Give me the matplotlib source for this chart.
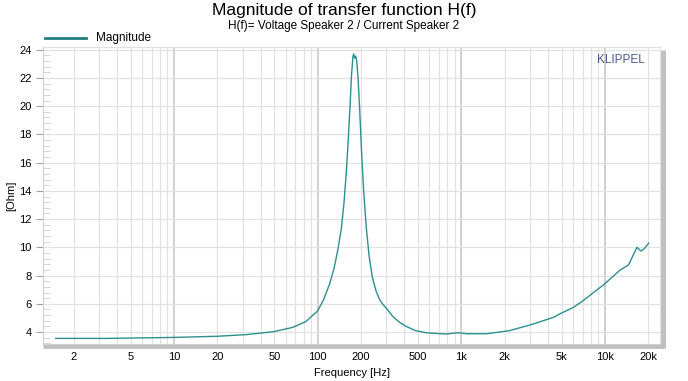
import matplotlib.pyplot as plt
from matplotlib.ticker import FixedLocator, NullFormatter, MultipleLocator

plt.rcParams['font.family'] = ['Liberation Sans', 'DejaVu Sans']

# --- Data ---
freq_hz = [1.5, 3.4, 10, 20, 32, 49, 67, 83, 100, 110, 121, 130, 138, 146,
           152, 158, 163, 168, 172, 176, 178, 181, 184, 187, 191, 196, 202,
           209, 218, 228, 240, 255, 270, 285, 300, 334, 370, 413, 480, 570,
           780, 950, 1090, 1500, 2170, 3170, 4380, 4880, 6040, 7000, 9740,
           12800, 14600, 16700, 17800, 18600, 20200]
magnitude = [3.55, 3.55, 3.62, 3.70, 3.82, 4.02, 4.33, 4.75, 5.5, 6.3, 7.4,
             8.5, 9.8, 11.3, 13.0, 15.2, 17.5, 20.0, 22.2, 23.5, 23.7, 23.4,
             23.55, 23.2, 22.0, 19.8, 16.8, 14.0, 11.4, 9.4, 7.9, 6.9, 6.3,
             5.95, 5.7, 5.1, 4.7, 4.4, 4.1, 3.95, 3.86, 3.95, 3.88, 3.88, 4.1,
             4.57, 5.04, 5.3, 5.75, 6.2, 7.33, 8.4, 8.75, 10.0, 9.74, 9.86,
             10.3]

x_ticks = [2, 5, 10, 20, 50, 100, 200, 500, 1000, 2000, 5000, 10000, 20000]
x_tick_labels = ["2", "5", "10", "20", "50", "100", "200", "500", "1k", "2k",
                 "5k", "10k", "20k"]
y_ticks = [4, 6, 8, 10, 12, 14, 16, 18, 20, 22, 24]

LINE_COLOR = "#2f8f8f"

fig = plt.figure(figsize=(6.88, 3.81), dpi=100)
ax = fig.add_axes([0.063, 0.097, 0.896, 0.780])

ax.plot(freq_hz, magnitude, color=LINE_COLOR, linewidth=1.0)

ax.set_xscale("log")
ax.set_xlim(1.23, 24100)
ax.set_ylim(3.15, 24.2)

# major decade grid darker, minor grid lighter
decades = [10, 100, 1000, 10000]
minors = [m * d for d in [1, 10, 100, 1000, 10000] for m in range(2, 10)]
minors = [m for m in minors if m < 24100]
for d in decades:
    ax.axvline(d, color="#c8c8c8", linewidth=1.2, zorder=0)
for m in minors:
    ax.axvline(m, color="#e2e2e2", linewidth=0.9, zorder=0)
for y in y_ticks:
    ax.axhline(y, color="#e2e2e2", linewidth=0.9, zorder=0)

ax.xaxis.set_major_locator(FixedLocator(x_ticks))
ax.set_xticklabels(x_tick_labels)
ax.xaxis.set_minor_formatter(NullFormatter())
ax.tick_params(axis="x", which="both", length=0, labelsize=8, pad=6)

ax.set_yticks(y_ticks)
ax.yaxis.set_minor_locator(MultipleLocator(0.4))
ax.tick_params(axis="y", which="major", length=5, color="#a0a0a0",
               labelsize=8)
ax.tick_params(axis="y", which="minor", direction="in", length=5,
               color="#d0d0d0")

for s in ["top", "right"]:
    ax.spines[s].set_color("#e2e2e2")
ax.spines["left"].set_color("#d0d0d0")
ax.spines["bottom"].set_color("#d0d0d0")

# shadow on right and bottom edges
ax.plot([1.005, 1.005], [-0.012, 0.99], transform=ax.transAxes,
        color="#c0c0c0", linewidth=3.5, clip_on=False, solid_capstyle="butt")
ax.plot([0.0, 1.007], [-0.007, -0.007], transform=ax.transAxes,
        color="#c0c0c0", linewidth=3.5, clip_on=False, solid_capstyle="butt")

ax.set_xlabel("Frequency [Hz]", fontsize=8, labelpad=4)
ax.set_ylabel("[Ohm]", fontsize=8, labelpad=2)

fig.text(0.5, 0.972, "Magnitude of transfer function H(f)", ha="center",
         va="center", fontsize=12.5)
fig.text(0.5, 0.932, "H(f)= Voltage Speaker 2 / Current Speaker 2",
         ha="center", va="center", fontsize=8.5)

ax.text(0.976, 0.955, "KLIPPEL", transform=ax.transAxes, ha="right",
        va="center", fontsize=8.5, color="#4a5a8c")

# legend above the plot area
fig.lines.append(plt.Line2D([0.066, 0.125], [0.899, 0.899],
                            transform=fig.transFigure, color="#1f7f7f",
                            linewidth=2))
fig.text(0.139, 0.899, "Magnitude", ha="left", va="center", fontsize=8.5)

plt.savefig("out.png", dpi=100)
